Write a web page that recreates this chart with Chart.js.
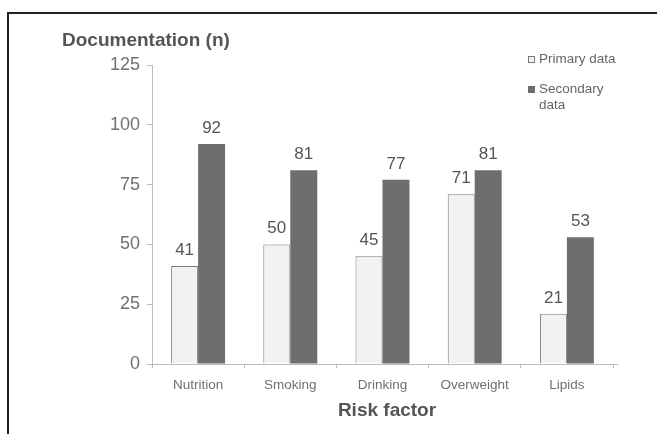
<!DOCTYPE html>
<html>
<head>
<meta charset="utf-8">
<script src="https://cdn.jsdelivr.net/npm/chart.js@4/dist/chart.umd.min.js"></script>
<style>
  html, body { margin: 0; padding: 0; background: #fff; }
  #wrap { position: relative; width: 657px; height: 434px; }
  canvas { display: block; }
  .legend { position: absolute; left: 528px; top: 51px; font-family: "Liberation Sans", Arial, sans-serif; font-size: 13.5px; color: #666; line-height: 16px; }
  .legend .item { display: flex; align-items: flex-start; margin-bottom: 14px; }
  .legend .sw { width: 7px; height: 7px; margin: 5px 4px 0 0; box-sizing: border-box; flex: none; }
  .legend .txt { width: 80px; }
</style>
</head>
<body>
<div id="wrap">
  <canvas id="chart" width="657" height="434"></canvas>
  <div class="legend">
    <div class="item"><span class="sw" style="background:#f2f2f2;border:1px solid #777"></span><span class="txt">Primary data</span></div>
    <div class="item"><span class="sw" style="background:#6e6e6e"></span><span class="txt">Secondary<br>data</span></div>
  </div>
</div>
<script>
const categories = ["Nutrition", "Smoking", "Drinking", "Overweight", "Lipids"];
const primaryData = [41, 50, 45, 71, 21];
const secondaryData = [92, 81, 77, 81, 53];
const yTicks = [0, 25, 50, 75, 100, 125];

const FONT = '"Liberation Sans", Arial, sans-serif';

// Frame lines, axis titles and value labels above the bars
const decorations = {
  id: 'decorations',
  afterDraw(chart) {
    const ctx = chart.ctx;
    const area = chart.chartArea;
    ctx.save();
    ctx.strokeStyle = '#222';
    ctx.lineWidth = 2;
    ctx.beginPath();
    ctx.moveTo(8, 434);
    ctx.lineTo(8, 13);
    ctx.lineTo(657, 13);
    ctx.stroke();

    // the category axis runs a little past the last group
    ctx.strokeStyle = '#bbb';
    ctx.lineWidth = 1;
    ctx.beginPath();
    ctx.moveTo(area.right, area.bottom + 0.5);
    ctx.lineTo(area.right + 5, area.bottom + 0.5);
    ctx.stroke();

    ctx.fillStyle = '#555';
    ctx.font = 'bold 19px ' + FONT;
    ctx.textAlign = 'left';
    ctx.textBaseline = 'middle';
    ctx.fillText('Documentation (n)', 62, 41);
    ctx.textAlign = 'center';
    ctx.fillText('Risk factor', 387, 411);

    ctx.font = '17px ' + FONT;
    ctx.fillStyle = '#555';
    ctx.textBaseline = 'alphabetic';
    chart.data.datasets.forEach((ds, i) => {
      chart.getDatasetMeta(i).data.forEach((bar, j) => {
        ctx.fillText(String(ds.data[j]), bar.x, bar.y - 11);
      });
    });
    ctx.restore();
  }
};

new Chart(document.getElementById('chart'), {
  type: 'bar',
  data: {
    labels: categories,
    datasets: [
      { label: 'Primary data', data: primaryData, backgroundColor: '#f2f2f2', borderColor: '#7a7a7a', borderWidth: 1 },
      { label: 'Secondary data', data: secondaryData, backgroundColor: '#6e6e6e', borderColor: '#6e6e6e', borderWidth: 0 }
    ]
  },
  options: {
    responsive: false,
    animation: false,
    layout: { padding: { left: 0, right: 44, top: 65, bottom: 0 } },
    plugins: { legend: { display: false }, tooltip: { enabled: false } },
    datasets: { bar: { barPercentage: 1.0, categoryPercentage: 0.585 } },
    scales: {
      x: {
        grid: { display: true, drawOnChartArea: false, offset: true, tickLength: 4, color: '#bbb' },
        border: { color: '#bbb' },
        ticks: { color: '#707070', font: { family: FONT, size: 13.5 }, padding: 9 },
        afterFit(scale) { scale.height = 70; }
      },
      y: {
        min: 0, max: 125,
        grid: { display: true, drawOnChartArea: false, tickLength: 5, color: '#bbb' },
        border: { color: '#bbb' },
        afterBuildTicks(scale) { scale.ticks = yTicks.map(v => ({ value: v })); },
        ticks: { color: '#707070', font: { family: FONT, size: 18 }, padding: 7 },
        afterFit(scale) { scale.width = 152; }
      }
    }
  },
  plugins: [decorations]
});
</script>
</body>
</html>
